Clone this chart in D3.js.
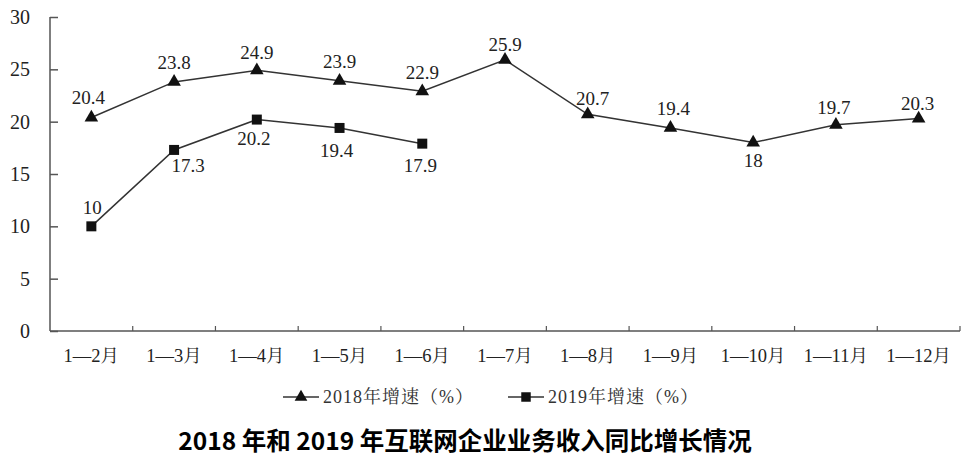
<!DOCTYPE html>
<html>
<head>
<meta charset="utf-8">
<script src="https://cdn.jsdelivr.net/npm/d3@7"></script>
<style>
body { margin: 0; background: #fff; }
</style>
</head>
<body>
<script>
// data
var months = ["1—2月","1—3月","1—4月","1—5月","1—6月","1—7月","1—8月","1—9月","1—10月","1—11月","1—12月"];
var growth2018 = [20.4, 23.8, 24.9, 23.9, 22.9, 25.9, 20.7, 19.4, 18, 19.7, 20.3];
var growth2019 = [10, 17.3, 20.2, 19.4, 17.9];
var yTicks = [0, 5, 10, 15, 20, 25, 30];
var seriesNames = ["2018年增速（%）", "2019年增速（%）"];
var title = ["2018", " 年和 ", "2019", " 年互联网企业业务收入同比增长情况"];

// label offsets (dx, dy) from each point, as placed in the original
var off2018 = [[-3,-20],[0,-20],[0,-18],[0,-19],[0,-19],[0,-16],[5,-16],[3,-20],[0,18],[-2,-17],[-1,-15]];
var off2019 = [[1,-19],[14,15],[-3,19],[-3,22],[-2,22]];

var W = 970, H = 460;
var serif = "\"Liberation Serif\", \"Noto Serif CJK SC\", serif";
var svg = d3.select("body").append("svg").attr("width", W).attr("height", H);

var x = d3.scaleBand().domain(months).range([50, 960]);
var y = d3.scaleLinear().domain([0, 30]).range([331, 17]);

// y axis
var yAxis = svg.append("g").attr("transform", "translate(50,0)")
  .call(d3.axisRight(y).tickValues(yTicks).tickSize(8).tickFormat(""));
yAxis.select(".domain").attr("d", "M0," + y(30) + "V" + y(0));
yAxis.selectAll("line, path").attr("stroke", "#555").attr("stroke-width", 1.5);
svg.selectAll(".ylab").data(yTicks).enter().append("text")
  .style("font-family", serif).style("font-size", "20px").style("fill", "#222")
  .attr("x", 30).attr("y", function(d) { return y(d); }).attr("dy", "0.35em")
  .attr("text-anchor", "end")
  .text(function(d) { return d; });

// x axis
svg.append("line").attr("x1", 50).attr("x2", 960).attr("y1", y(0)).attr("y2", y(0))
  .attr("stroke", "#555").attr("stroke-width", 1.5);
var bounds = months.map(function(m) { return x(m); }).concat([960]);
svg.selectAll(".xtick").data(bounds.slice(1)).enter().append("line")
  .attr("x1", function(d) { return d; }).attr("x2", function(d) { return d; })
  .attr("y1", y(0)).attr("y2", y(0) - 5).attr("stroke", "#555").attr("stroke-width", 1.2);
svg.selectAll(".xlab").data(months).enter().append("text")
  .style("font-family", serif).style("font-size", "18.5px").style("fill", "#222")
  .attr("x", function(d) { return x(d) + x.bandwidth() / 2; }).attr("y", 362)
  .attr("text-anchor", "middle")
  .text(function(d) { return d; });

var cx = function(d, i) { return x(months[i]) + x.bandwidth() / 2; };
var line = d3.line().x(function(d, i) { return cx(d, i); }).y(function(d) { return y(d); });

function drawSeries(vals, shape, offs) {
  var g = svg.append("g");
  g.append("path").datum(vals).attr("d", line).attr("fill", "none")
    .attr("stroke", "#333").attr("stroke-width", 1.5);
  g.selectAll(".m").data(vals).enter().append("path")
    .attr("d", d3.symbol().type(shape).size(shape === d3.symbolSquare ? 100 : 80))
    .attr("transform", function(d, i) { return "translate(" + cx(d, i) + "," + y(d) + ")"; })
    .attr("fill", "#111");
  g.selectAll(".lab").data(vals).enter().append("text")
    .style("font-family", serif).style("font-size", "19px").style("fill", "#222")
    .attr("x", function(d, i) { return cx(d, i) + offs[i][0]; })
    .attr("y", function(d, i) { return y(d) + offs[i][1]; }).attr("dy", "0.35em")
    .attr("text-anchor", "middle")
    .text(function(d) { return d; });
}
drawSeries(growth2018, d3.symbolTriangle, off2018);
drawSeries(growth2019, d3.symbolSquare, off2019);

// legend
var legX = [283, 508];
[d3.symbolTriangle, d3.symbolSquare].forEach(function(s, i) {
  var lg = svg.append("g").attr("transform", "translate(" + legX[i] + ",397)");
  lg.append("line").attr("x1", 0).attr("x2", 36).attr("stroke", "#333").attr("stroke-width", 1.5);
  lg.append("path").attr("d", d3.symbol().type(s).size(s === d3.symbolSquare ? 90 : 70))
    .attr("transform", "translate(18,0)").attr("fill", "#111");
  lg.append("text").attr("x", 40).attr("dy", "0.35em")
    .style("font-family", serif).style("font-size", "18px").style("fill", "#333")
    .style("letter-spacing", "1px")
    .text(seriesNames[i]);
});

// title
var t = svg.append("text").attr("x", 465).attr("y", 450).attr("text-anchor", "middle")
  .style("font-family", "\"Noto Sans CJK SC\", sans-serif").style("font-weight", "bold")
  .style("font-size", "24.5px").style("fill", "#000");
t.selectAll("tspan").data(title).enter().append("tspan").text(function(d) { return d; });
</script>
</body>
</html>
